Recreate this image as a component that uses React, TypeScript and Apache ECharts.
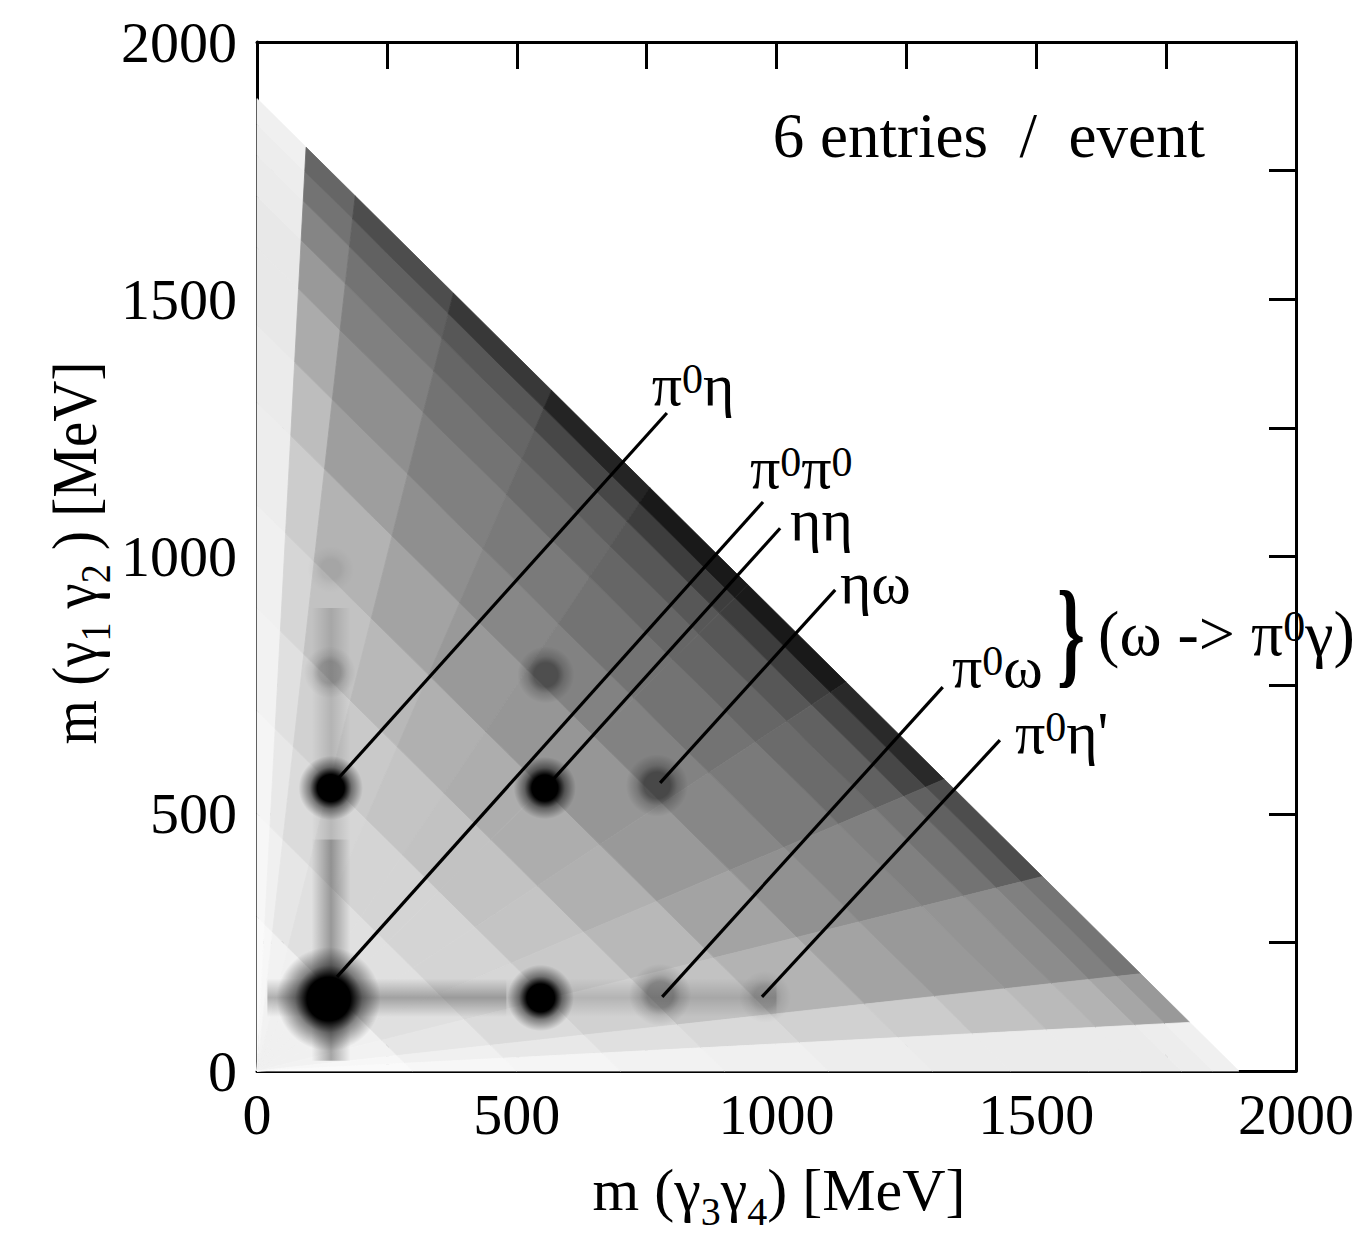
import React, { useEffect, useRef } from "react";
import * as echarts from "echarts";

const FONT = "Liberation Serif";

// Axis range (MeV)
const AXIS_MIN = 0;
const AXIS_MAX = 2000;
const MAJOR_STEP = 500;

// Background density: cells in (sum = m12 + m34, fraction = m34 / sum)
const SUM_EDGES = [0, 300, 500, 700, 900, 1100, 1300, 1450, 1600, 1700, 1780, 1840, 1890];
const FRACTION_EDGES = [0, 0.05, 0.1, 0.2, 0.3, 0.4, 0.5, 0.6, 0.7, 0.8, 0.9, 0.95, 1];
// blackness (0..1), one row per sum bin
const DENSITY_ROWS = [
  [0.02, 0.03, 0.05, 0.06, 0.06, 0.06, 0.06, 0.06, 0.06, 0.05, 0.03, 0.02],
  [0.03, 0.06, 0.1, 0.12, 0.12, 0.12, 0.12, 0.12, 0.12, 0.1, 0.06, 0.03],
  [0.04, 0.09, 0.14, 0.16, 0.17, 0.17, 0.17, 0.17, 0.16, 0.14, 0.09, 0.04],
  [0.05, 0.12, 0.18, 0.21, 0.23, 0.24, 0.24, 0.23, 0.21, 0.18, 0.12, 0.05],
  [0.06, 0.16, 0.24, 0.28, 0.31, 0.32, 0.32, 0.31, 0.28, 0.24, 0.15, 0.06],
  [0.07, 0.2, 0.3, 0.36, 0.4, 0.41, 0.41, 0.4, 0.36, 0.3, 0.18, 0.07],
  [0.08, 0.26, 0.38, 0.44, 0.47, 0.49, 0.49, 0.47, 0.43, 0.36, 0.2, 0.08],
  [0.09, 0.33, 0.44, 0.5, 0.52, 0.55, 0.55, 0.52, 0.47, 0.4, 0.24, 0.08],
  [0.09, 0.4, 0.5, 0.55, 0.58, 0.6, 0.6, 0.58, 0.5, 0.42, 0.27, 0.08],
  [0.08, 0.48, 0.55, 0.6, 0.63, 0.66, 0.66, 0.62, 0.55, 0.45, 0.3, 0.08],
  [0.07, 0.55, 0.62, 0.66, 0.72, 0.76, 0.76, 0.72, 0.62, 0.5, 0.35, 0.07],
  [0.06, 0.6, 0.7, 0.78, 0.86, 0.9, 0.9, 0.84, 0.7, 0.54, 0.4, 0.06],
];

// Streaks: [x0, x1, y0, y1, blackness]
const STREAKS = [
  [105, 180, 20, 450, 0.32],
  [105, 180, 450, 900, 0.14],
  [20, 480, 105, 180, 0.28],
  [480, 1000, 105, 180, 0.14],
];

// Peaks: [m34, m12, radius (MeV), blackness]
const PEAKS = [
  [138, 140, 100, 1.0],
  [546, 142, 64, 1.0],
  [142, 550, 62, 1.0],
  [554, 550, 60, 1.0],
  [770, 555, 60, 0.45],
  [556, 770, 55, 0.4],
  [140, 775, 50, 0.2],
  [776, 148, 60, 0.3],
  [978, 144, 50, 0.15],
  [142, 975, 45, 0.08],
];

// Annotation lines: [x0, y0, x1, y1] (MeV)
const LINES = [
  [154, 566, 789, 1279],
  [154, 183, 974, 1106],
  [564, 560, 1007, 1055],
  [776, 560, 1113, 935],
  [780, 144, 1320, 746],
  [972, 144, 1430, 643],
];
const LABEL_TEXTS = [
  "{n|π}{s|0}{n|η}",
  "{n|π}{s|0}{n|π}{s|0}",
  "{n|ηη}",
  "{n|ηω}",
  "{n|π}{s|0}{n|ω}",
  "{n|π}{s|0}{n|η'}",
];
// label anchor (left, baseline) in MeV
const LABEL_AT = [
  [760, 1294],
  [949, 1133],
  [1026, 1032],
  [1122, 910],
  [1338, 746],
  [1459, 618],
];
const BRACE_AT = [1540, 853];
const DECAY_TEXT = "{n|(ω -> π}{s|0}{n|γ)}";
const DECAY_AT = [1619, 809];
const TITLE_TEXT = "6 entries  /  event";
const TITLE_AT = [993, 1776];

export default function App() {
  const ref = useRef<HTMLDivElement>(null);
  useEffect(() => {
    document.body.style.margin = "0";
    const chart = echarts.init(ref.current!, null, { renderer: "svg" });

    const densityData: number[][] = [];
    for (let i = 0; i < SUM_EDGES.length - 1; i++) {
      for (let j = 0; j < FRACTION_EDGES.length - 1; j++) {
        densityData.push([SUM_EDGES[i], SUM_EDGES[i + 1], FRACTION_EDGES[j], FRACTION_EDGES[j + 1], DENSITY_ROWS[i][j]]);
      }
    }

    const axisCommon = (show: boolean, margin: number) => ({
      type: "value",
      min: AXIS_MIN,
      max: AXIS_MAX,
      interval: MAJOR_STEP,
      axisLine: { show: true, onZero: false, lineStyle: { color: "#000", width: 3 } },
      axisTick: { show: true, inside: true, length: 27, lineStyle: { color: "#000", width: 3 } },
      minorTick: { show: true, splitNumber: 2, length: 27, lineStyle: { color: "#000", width: 3 } },
      splitLine: { show: false },
      minorSplitLine: { show: false },
      axisLabel: {
        show,
        fontSize: 58,
        fontFamily: FONT,
        color: "#000",
        margin,
        formatter: (v: number) => String(v),
      },
    });

    chart.setOption({
      animation: false,
      grid: { left: 257, top: 42, width: 1039, height: 1029, containLabel: false },
      xAxis: [
        { ...axisCommon(true, 14), position: "bottom" },
        { ...axisCommon(false, 14), position: "top" },
      ],
      yAxis: [
        { ...axisCommon(true, 20), position: "left" },
        { ...axisCommon(false, 20), position: "right" },
      ],
      series: [
        {
          type: "custom",
          xAxisIndex: 0,
          yAxisIndex: 0,
          z: 1,
          data: densityData,
          renderItem: (_p: any, api: any) => {
            const s0 = api.value(0), s1 = api.value(1), t0 = api.value(2), t1 = api.value(3), d = api.value(4);
            const pts = [
              [t0 * s0, (1 - t0) * s0],
              [t1 * s0, (1 - t1) * s0],
              [t1 * s1, (1 - t1) * s1],
              [t0 * s1, (1 - t0) * s1],
            ].map((p) => api.coord(p));
            const g = Math.round(255 * (1 - d));
            const c = `rgb(${g},${g},${g})`;
            return { type: "polygon", shape: { points: pts }, style: { fill: c, stroke: c, lineWidth: 0.8 } };
          },
        },
        {
          type: "custom",
          xAxisIndex: 0,
          yAxisIndex: 0,
          z: 2,
          data: STREAKS,
          renderItem: (_p: any, api: any) => {
            const a = api.coord([api.value(0), api.value(3)]);
            const b = api.coord([api.value(1), api.value(2)]);
            const w = b[0] - a[0];
            const h = b[1] - a[1];
            const vertical = w < h;
            const k = api.value(4);
            return {
              type: "rect",
              shape: { x: a[0], y: a[1], width: w, height: h },
              style: {
                fill: {
                  type: "linear",
                  x: 0,
                  y: 0,
                  x2: vertical ? 1 : 0,
                  y2: vertical ? 0 : 1,
                  colorStops: [
                    { offset: 0, color: "rgba(0,0,0,0)" },
                    { offset: 0.5, color: `rgba(0,0,0,${k})` },
                    { offset: 1, color: "rgba(0,0,0,0)" },
                  ],
                },
              },
            };
          },
        },
        {
          type: "custom",
          xAxisIndex: 0,
          yAxisIndex: 0,
          z: 3,
          data: PEAKS,
          renderItem: (_p: any, api: any) => {
            const c = api.coord([api.value(0), api.value(1)]);
            const r = api.size([api.value(2), 0])[0];
            const a = api.value(3);
            return {
              type: "circle",
              shape: { cx: c[0], cy: c[1], r },
              style: {
                fill: {
                  type: "radial",
                  x: 0.5,
                  y: 0.5,
                  r: 0.5,
                  colorStops: [
                    { offset: 0, color: `rgba(0,0,0,${a})` },
                    { offset: 0.42, color: `rgba(0,0,0,${a})` },
                    { offset: 0.65, color: `rgba(0,0,0,${a * 0.45})` },
                    { offset: 1, color: "rgba(0,0,0,0)" },
                  ],
                },
              },
            };
          },
        },
        {
          type: "custom",
          xAxisIndex: 0,
          yAxisIndex: 0,
          z: 4,
          data: LINES,
          renderItem: (_p: any, api: any) => {
            const a = api.coord([api.value(0), api.value(1)]);
            const b = api.coord([api.value(2), api.value(3)]);
            return {
              type: "line",
              shape: { x1: a[0], y1: a[1], x2: b[0], y2: b[1] },
              style: { stroke: "#000", lineWidth: 3.2 },
            };
          },
        },
      ],
    });

    const toPx = (p: number[]) => chart.convertToPixel({ xAxisIndex: 0, yAxisIndex: 0 }, p) as number[];
    const LFS = 60;
    const rich = {
      n: { fontFamily: FONT, fontSize: LFS, lineHeight: 46, fill: "#000", color: "#000" },
      s: { fontFamily: FONT, fontSize: 42, padding: [0, 0, 12, 0], fill: "#000", color: "#000" },
    };
    const DFS = 64;
    const decayRich = {
      n: { fontFamily: FONT, fontSize: DFS, lineHeight: 50, fill: "#000", color: "#000" },
      s: { fontFamily: FONT, fontSize: 44, padding: [0, 0, 13, 0], fill: "#000", color: "#000" },
    };
    const graphics: any[] = [];
    LABEL_TEXTS.forEach((t, i) => {
      const p = toPx(LABEL_AT[i]);
      graphics.push({
        type: "text",
        x: p[0],
        y: p[1] - 0.3375 * LFS,
        z: 100,
        style: { text: t, rich, align: "left", verticalAlign: "middle" },
      });
    });
    const dp = toPx(DECAY_AT);
    graphics.push({
      type: "text",
      x: dp[0],
      y: dp[1] - 0.3375 * DFS,
      z: 100,
      style: { text: DECAY_TEXT, rich: decayRich, align: "left", verticalAlign: "middle" },
    });
    const bp = toPx(BRACE_AT);
    graphics.push({
      type: "text",
      x: bp[0],
      y: bp[1],
      scaleX: 0.6,
      z: 100,
      style: {
        text: "}",
        fontFamily: FONT,
        fontSize: 118,
        fontWeight: "bold",
        fill: "#000",
        align: "left",
        verticalAlign: "middle",
      },
    });
    const tp = toPx(TITLE_AT);
    graphics.push({
      type: "text",
      x: tp[0],
      y: tp[1] - 0.3375 * 63,
      z: 100,
      style: { text: TITLE_TEXT, fontFamily: FONT, fontSize: 63, fill: "#000", align: "left", verticalAlign: "middle" },
    });
    const titleRich = {
      n: { fontFamily: FONT, fontSize: 60, lineHeight: 60, fill: "#000", color: "#000" },
      b: { fontFamily: FONT, fontSize: 40, padding: [43, 0, 0, 0], fill: "#000", color: "#000" },
    };
    graphics.push({
      type: "text",
      x: 779,
      y: 1210 - 0.3375 * 60,
      z: 100,
      style: { text: "{n|m (γ}{b|3}{n|γ}{b|4}{n|) [MeV]}", rich: titleRich, align: "center", verticalAlign: "middle" },
    });
    const yRich = {
      n: { fontFamily: FONT, fontSize: 57, lineHeight: 57, fill: "#000", color: "#000" },
      b: { fontFamily: FONT, fontSize: 38, padding: [38, 0, 0, 0], fill: "#000", color: "#000" },
    };
    graphics.push({
      type: "text",
      x: 96 - 0.3375 * 57 * 1.1,
      y: 553,
      rotation: Math.PI / 2,
      scaleY: 1.1,
      z: 100,
      style: { text: "{n|m (γ}{b|1}{n| γ}{b|2}{n| ) [MeV]}", rich: yRich, align: "center", verticalAlign: "middle" },
    });
    chart.setOption({ graphic: graphics });

    return () => chart.dispose();
  }, []);
  return <div ref={ref} style={{ width: 1364, height: 1244 }} />;
}
